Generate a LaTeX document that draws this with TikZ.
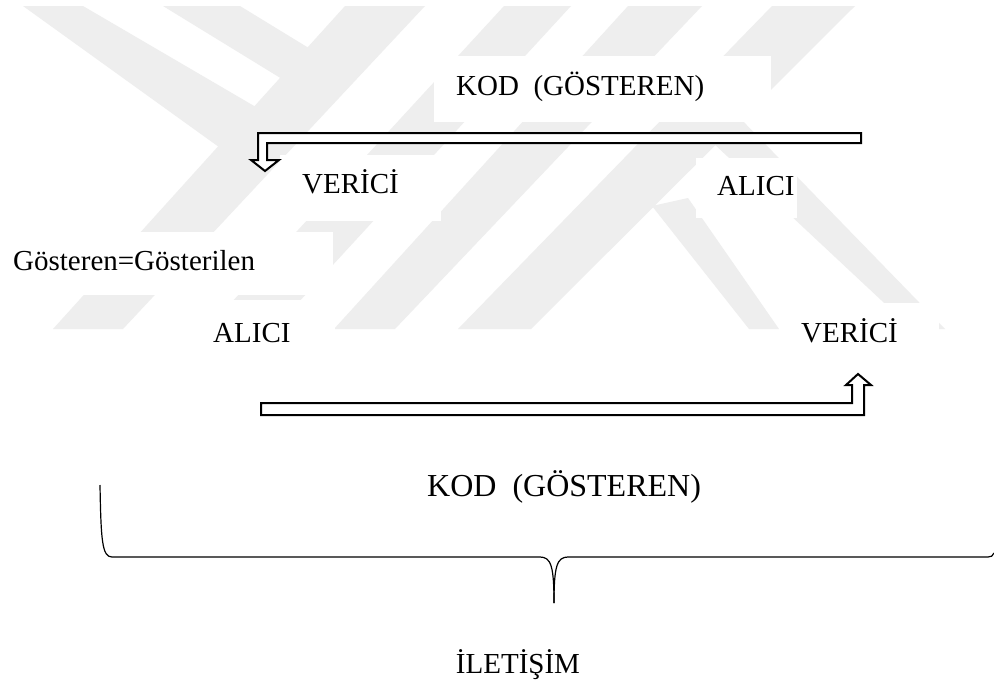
\documentclass[tikz,border=0pt]{standalone}
\usepackage{fontspec}
\setmainfont{Liberation Serif}
\definecolor{wmgray}{RGB}{238,238,238}
\begin{document}
\begin{tikzpicture}[x=1pt,y=-1pt,
  wm/.style={fill=wmgray,draw=none},
  whitebox/.style={fill=white,draw=none},
  lbl/.style={inner sep=0pt,font=\fontsize{29}{34}\selectfont,anchor=base west},
  hollow/.style={draw=black,line width=2pt,fill=white,line join=miter},
  bracestyle/.style={draw=black,line width=1.2pt}]
\useasboundingbox (0,0) rectangle (994,686);
\fill[white] (0,0) rectangle (994,686);
% faint watermark
\fill[wm] (23,6) -- (83,6) -- (273,117) -- (230,155) -- cycle;
\fill[wm] (163,6) -- (240,6) -- (330,61) -- (300,90) -- cycle;
\fill[wm] (345,6) -- (425,6) -- (123,329) -- (53,329) -- cycle;
\fill[wm] (504,6) -- (571,6) -- (274,329) -- (207,329) -- cycle;
\fill[wm] (628,6) -- (702,6) -- (395,329) -- (334,329) -- cycle;
\fill[wm] (772,6) -- (855,6) -- (531,329) -- (458,329) -- cycle;
\fill[wm] (652,206) -- (688,198) -- (779,329) -- (749,329) -- cycle;
\fill[wm] (738,116) -- (712,142) -- (912,329) -- (945,329) -- cycle;
% white label backgrounds
\fill[whitebox] (434,56) rectangle (771,122);
\fill[whitebox] (280,155) rectangle (441,221);
\fill[whitebox] (696,158) rectangle (797,218);
\fill[whitebox] (0,232) rectangle (333,295);
\fill[whitebox] (193,300) rectangle (335,360);
\fill[whitebox] (779,303) rectangle (939,360);
% labels
\node[lbl] (kodtop) at (456,95) {KOD~~(GÖSTEREN)};
\node[lbl] (vericitop) at (302,193) {VERİCİ};
\node[lbl] (alicitop) at (717,195) {ALICI};
\node[lbl] (gost) at (13,270) {Gösteren=Gösterilen};
\node[lbl] (alicibot) at (213,342) {ALICI};
\node[lbl] (vericibot) at (801,342) {VERİCİ};
\node[lbl,font=\fontsize{32}{38}\selectfont] (kodbot) at (427,496) {KOD~~(GÖSTEREN)};
\node[lbl,anchor=base] (iletisim) at (518,673) {İLETİŞİM};
% hollow arrows
\coordinate (a1e) at (265,171);
\draw[hollow] (861,133) -- (258,133) -- (258,160) -- (251,160) -- (a1e) -- (279,160) -- (267,160) -- (267,143) -- (861,143) -- cycle;
\coordinate (a2e) at (858,374);
\draw[hollow] (261,403) -- (852,403) -- (852,385) -- (846,385) -- (a2e) -- (871,385) -- (864,385) -- (864,415) -- (261,415) -- cycle;
% brace
\coordinate (bl) at (100,485);
\coordinate (bt) at (554,603);
\coordinate (br) at (994,553);
\draw[bracestyle] (bl) .. controls (101,540) and (102,557) .. (112,557) -- (540,557) .. controls (551,557) and (554,566) .. (bt);
\draw[bracestyle] (bt) .. controls (554,566) and (557,557) .. (568,557) -- (988,557) .. controls (991,557) and (993,556) .. (br);
\end{tikzpicture}
\end{document}
